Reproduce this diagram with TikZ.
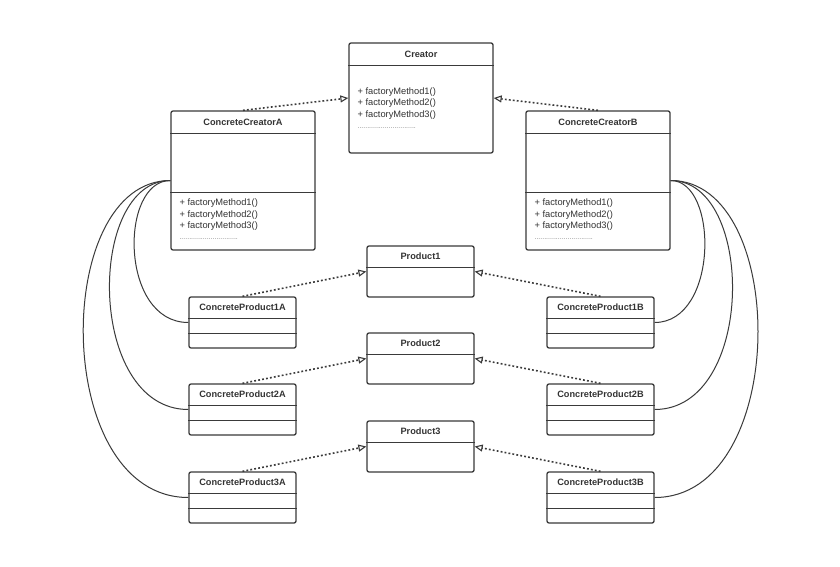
\documentclass[tikz,border=0pt]{standalone}
\usepackage{fontspec}
\setmainfont{Liberation Sans}
\usetikzlibrary{arrows.meta,positioning,calc}
\definecolor{ink}{HTML}{3A3A3A}
\definecolor{txt}{HTML}{333333}
\tikzset{
  cls/.style={draw=ink, line width=1.3pt, rounded corners=2pt, fill=white, inner sep=0pt},
  bigcls/.style={cls, minimum width=144pt},
  smallcls/.style={cls, minimum width=107pt, minimum height=51pt},
  ttl/.style={font=\fontsize{9.2}{11}\selectfont\bfseries, text=txt, inner sep=0pt},
  mth/.style={font=\fontsize{9.3}{11}\selectfont, text=txt, inner sep=0pt, anchor=west},
  dots/.style={font=\fontsize{7}{8}\selectfont, text=gray, inner sep=0pt, anchor=west},
  sep/.style={draw=ink, line width=1.2pt},
  real/.style={ink, line width=1.6pt, dash pattern=on 1.8pt off 2.2pt,
    -{Triangle[open, length=8pt, width=7pt, line width=1.1pt]}},
  link/.style={ink, line width=1pt}}

\begin{document}
\begin{tikzpicture}[x=1pt, y=-1pt]
  \fill[white] (0,0) rectangle (840,567);
  \useasboundingbox (0,0) rectangle (840,567);

  % creators
  \node[bigcls, minimum height=110pt] (creator) at (421,98) {};
  \node[bigcls, minimum height=139pt] (cca) at (243,180.5) {};
  \node[bigcls, minimum height=139pt] (ccb) at (598,180.5) {};

  \node[ttl] (creator-t) at ($(creator.north)+(0,11.5)$) {Creator};
  \node[ttl] (cca-t) at ($(cca.north)+(0,11.5)$) {ConcreteCreatorA};
  \node[ttl] (ccb-t) at ($(ccb.north)+(0,11.5)$) {ConcreteCreatorB};

  \draw[sep] ($(creator.north west)+(0,23)$) -- ($(creator.north east)+(0,23)$);
  \foreach \c in {cca,ccb} {
    \draw[sep] ($(\c.north west)+(0,23)$) -- ($(\c.north east)+(0,23)$);
    \draw[sep] ($(\c.north west)+(0,82)$) -- ($(\c.north east)+(0,82)$);
  }

  \foreach \k in {1,2,3} {
    \node[mth] (creator-m\k) at ($(creator.north west)+(9,38.4+11.3*\k)$) {+ factoryMethod\k()};
    \node[mth] (cca-m\k) at ($(cca.north west)+(9,81.7+11.3*\k)$) {+ factoryMethod\k()};
    \node[mth] (ccb-m\k) at ($(ccb.north west)+(9,81.7+11.3*\k)$) {+ factoryMethod\k()};
  }
  \node[dots] (creator-d) at ($(creator.north west)+(9,85.5)$) {..............................};
  \node[dots] (cca-d) at ($(cca.north west)+(9,129)$) {..............................};
  \node[dots] (ccb-d) at ($(ccb.north west)+(9,129)$) {..............................};

  % products
  \foreach \i/\y in {1/322.5, 2/409.5, 3/497.5} {
    \node[smallcls] (p\i) at (420.5,\y-51) {};
    \node[smallcls] (cpa\i) at (242.5,\y) {};
    \node[smallcls] (cpb\i) at (600.5,\y) {};
    \node[ttl] (p\i-t) at ($(p\i.north)+(0,11)$) {Product\i};
    \node[ttl] (cpa\i-t) at ($(cpa\i.north)+(0,11)$) {ConcreteProduct\i A};
    \node[ttl] (cpb\i-t) at ($(cpb\i.north)+(0,11)$) {ConcreteProduct\i B};
    \draw[sep] ($(p\i.north west)+(0,22)$) -- ($(p\i.north east)+(0,22)$);
    \foreach \c in {cpa\i,cpb\i} {
      \draw[sep] ($(\c.north west)+(0,22)$) -- ($(\c.north east)+(0,22)$);
      \draw[sep] ($(\c.north west)+(0,37)$) -- ($(\c.north east)+(0,37)$);
    }
    \draw[real] (cpa\i.north) -- (p\i.west);
    \draw[real] (cpb\i.north) -- (p\i.east);
  }

  \draw[real] (cca.north) -- (creator.west);
  \draw[real] (ccb.north) -- (creator.east);

  % creator to its products
  \draw[link] (cca.west) .. controls +(-51,0) and +(-69,0) .. (cpa1.west);
  \draw[link] (cca.west) .. controls +(-84,0) and +(-102,0) .. (cpa2.west);
  \draw[link] (cca.west) .. controls +(-119,0) and +(-137,0) .. (cpa3.west);
  \draw[link] (ccb.east) .. controls +(48,0) and +(64,0) .. (cpb1.east);
  \draw[link] (ccb.east) .. controls +(85,0) and +(101,0) .. (cpb2.east);
  \draw[link] (ccb.east) .. controls +(119,0) and +(135,0) .. (cpb3.east);
\end{tikzpicture}
\end{document}
